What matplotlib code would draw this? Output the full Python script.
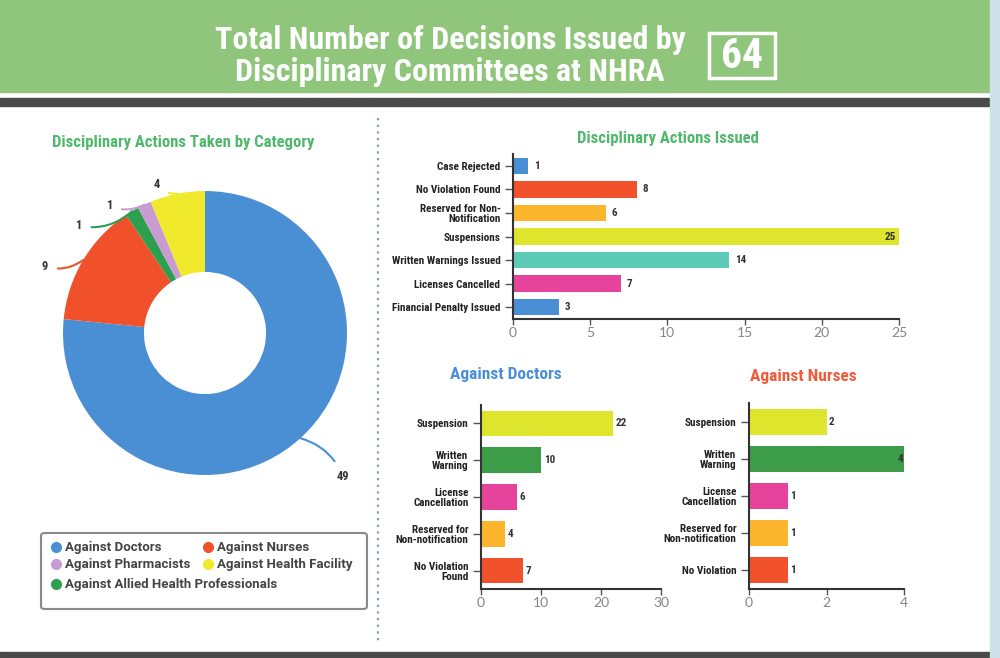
import numpy as np
import matplotlib.pyplot as plt
from matplotlib import font_manager
from matplotlib.patches import Rectangle, FancyBboxPatch
from matplotlib.lines import Line2D

# ---- data ----
pie_labels = ['Against Doctors', 'Against Nurses', 'Against Allied Health Professionals',
              'Against Pharmacists', 'Against Health Facility']
pie_values = [49, 9, 1, 1, 4]
pie_colors = ['#4a8fd4', '#f0512b', '#2e9f4f', '#c99bd3', '#f1ea2c']

issued_cats = ['Case Rejected', 'No Violation Found', 'Reserved for Non-\nNotification',
               'Suspensions', 'Written Warnings Issued', 'Licenses Cancelled',
               'Financial Penalty Issued']
issued_vals = [1, 8, 6, 25, 14, 7, 3]
issued_cols = ['#4a8fd6', '#f2522b', '#fbb62e', '#dde52d', '#5ecbb6', '#e6449c', '#4a8fd6']

doc_cats = ['Suspension', 'Written\nWarning', 'License\nCancellation',
            'Reserved for\nNon-notification', 'No Violation\nFound']
doc_vals = [22, 10, 6, 4, 7]
nurse_cats = ['Suspension', 'Written\nWarning', 'License\nCancellation',
              'Reserved for\nNon-notification', 'No Violation']
nurse_vals = [2, 4, 1, 1, 1]
sub_cols = ['#dde52d', '#3d9c48', '#e6449c', '#fbb62e', '#f2522b']

total = 64

# fonts
names = {f.name for f in font_manager.fontManager.ttflist}
narrow = 'DejaVu Sans'
for n in ['Roboto Condensed', 'Liberation Sans Narrow', 'Roboto']:
    if n in names:
        narrow = n
        break
light = 'Lato' if 'Lato' in names else 'DejaVu Sans'
leg_font = 'Roboto' if 'Roboto' in names else 'DejaVu Sans'

W, H = 1000, 658
fig = plt.figure(figsize=(10, 6.58), dpi=100)
fig.patch.set_facecolor('white')


def box(x0, y0, x1, y1):
    # pixel box (top-left origin) -> figure fraction rect
    return [x0 / W, 1 - y1 / H, (x1 - x0) / W, (y1 - y0) / H]


# ---- header / frame ----
fig.patches.append(Rectangle((0, 1 - 92 / H), 1, 92 / H, transform=fig.transFigure,
                             color='#8fc67c', zorder=0))
fig.patches.append(Rectangle((0, 1 - 106 / H), 990 / W, 8 / H, transform=fig.transFigure,
                             color='#4a4a4a', zorder=0))
fig.patches.append(Rectangle((0, 0), 990 / W, 6 / H, transform=fig.transFigure,
                             color='#4a4a4a', zorder=0))
fig.patches.append(Rectangle((990 / W, 0), 10 / W, 1, transform=fig.transFigure,
                             color='#cfe0e8', zorder=0))

fig.text(450 / W, 1 - 56 / H, 'Total Number of Decisions Issued by\nDisciplinary Committees at NHRA',
         ha='center', va='center', color='white', fontsize=23, fontweight='bold',
         family=narrow, linespacing=1.05)
fig.patches.append(Rectangle((709 / W, 1 - 78 / H), 66 / W, 45 / H, transform=fig.transFigure,
                             fill=False, edgecolor='white', lw=2.5, zorder=2))
fig.text(742 / W, 1 - 56 / H, str(total), ha='center', va='center', color='white',
         fontsize=30, fontweight='bold', family=narrow)

# dotted separator
fig.lines.append(Line2D([378 / W, 378 / W], [1 - 118 / H, 1 - 642 / H], transform=fig.transFigure,
                        color='#7d9cc0', lw=1.6, ls=(0, (1, 2))))

# ---- donut ----
R = 142.0
ax = fig.add_axes(box(20, 160, 390, 506))
wedges, _ = ax.pie(pie_values, colors=pie_colors, startangle=90, counterclock=False,
                   radius=1, wedgeprops=dict(width=0.57, edgecolor='none'))
ax.set_xlim(-185 / R, 185 / R)
ax.set_ylim(-173 / R, 173 / R)
ax.set_aspect('auto')

lab_ang = [-47.5, 157, 139, 126, 107]
lab_rad = [1.37, 1.2, 1.15, 1.11, 1.09]
for w, v, c, a, r in zip(wedges, pie_values, pie_colors, lab_ang, lab_rad):
    mid = np.deg2rad((w.theta1 + w.theta2) / 2)
    tx, ty = r * np.cos(np.deg2rad(a)), r * np.sin(np.deg2rad(a))
    ha = 'left' if tx > 0 else 'right'
    ax.annotate(str(v), xy=(np.cos(mid), np.sin(mid)), xytext=(tx, ty), ha=ha, va='center',
                fontsize=9, fontweight='bold', color='#333333', family=narrow,
                arrowprops=dict(arrowstyle='-', color=c, lw=1.5, shrinkA=5, shrinkB=0,
                                connectionstyle='arc3,rad=0.25'))

fig.text(183 / W, 1 - 143 / H, 'Disciplinary Actions Taken by Category', ha='center', va='center',
         color='#4fb86a', fontsize=12, fontweight='bold', family=narrow)

# legend
fig.patches.append(FancyBboxPatch((41 / W, 1 - 609 / H), 326 / W, 76 / H, transform=fig.transFigure,
                                  boxstyle='round,pad=0,rounding_size=0.004', fill=False,
                                  edgecolor='#8a8a8a', lw=1.5))


def handle(c):
    return Line2D([], [], marker='o', ls='', markersize=7, markerfacecolor=c, markeredgecolor=c)


order = [0, 3, 1, 4]
leg1 = fig.legend([handle(pie_colors[i]) for i in order], [pie_labels[i] for i in order],
                  ncol=2, loc='upper left', bbox_to_anchor=(40 / W, 1 - 532 / H), frameon=False,
                  prop=dict(family=leg_font, size=9.5, weight='bold'), handletextpad=0.2,
                  columnspacing=0.8, labelspacing=0.3, borderpad=0.2, handlelength=1.0)
leg2 = fig.legend([handle(pie_colors[2])], [pie_labels[2]], loc='upper left',
                  bbox_to_anchor=(40 / W, 1 - 569 / H), frameon=False,
                  prop=dict(family=leg_font, size=9.5, weight='bold'), handletextpad=0.2,
                  borderpad=0.2, handlelength=1.0)
for lg in (leg1, leg2):
    for t in lg.get_texts():
        t.set_color('#444444')


# ---- bar charts ----
def hbar(ax, cats, vals, cols, xmax, step, fs):
    y = np.arange(len(cats))
    ax.barh(y, vals, height=0.7, color=cols)
    ax.set_ylim(len(cats) - 0.5, -0.5)
    ax.set_xlim(0, xmax)
    ax.set_xticks(np.arange(0, xmax + 1, step))
    ax.set_yticks(y)
    ax.set_yticklabels(cats, fontsize=fs, fontweight='bold', family=narrow, color='#222222',
                       linespacing=1.0)
    for s in ['top', 'right']:
        ax.spines[s].set_visible(False)
    for s in ['left', 'bottom']:
        ax.spines[s].set_color('#333333')
        ax.spines[s].set_linewidth(1.5)
    ax.tick_params(axis='y', length=6, width=1, color='#555555', pad=3)
    ax.tick_params(axis='x', length=4, width=1, color='#555555', labelcolor='#858585',
                   labelsize=10, pad=2)
    for t in ax.get_xticklabels():
        t.set_family(light)
        t.set_fontweight('normal')
    for yi, v in zip(y, vals):
        if v >= xmax:
            ax.text(v - xmax * 0.008, yi, str(v), ha='right', va='center', fontsize=8,
                    fontweight='bold', color='#333333', family=narrow)
        else:
            ax.text(v + xmax * 0.015, yi, str(v), ha='left', va='center', fontsize=8,
                    fontweight='bold', color='#333333', family=narrow)


ax1 = fig.add_axes(box(513, 154, 899, 319))
hbar(ax1, issued_cats, issued_vals, issued_cols, 25, 5, 8)
fig.text(668 / W, 1 - 139 / H, 'Disciplinary Actions Issued', ha='center', va='center',
         color='#4fb86a', fontsize=12, fontweight='bold', family=narrow)

ax2 = fig.add_axes(box(481, 405, 661, 589))
hbar(ax2, doc_cats, doc_vals, sub_cols, 30, 10, 8)
fig.text(506 / W, 1 - 374 / H, 'Against Doctors', ha='center', va='center',
         color='#4a90d9', fontsize=12.5, fontweight='bold', family=narrow)

ax3 = fig.add_axes(box(749, 403, 904, 589))
hbar(ax3, nurse_cats, nurse_vals, sub_cols, 4, 2, 8)
fig.text(803 / W, 1 - 376 / H, 'Against Nurses', ha='center', va='center',
         color='#f25a3a', fontsize=12.5, fontweight='bold', family=narrow)

fig.savefig('out.png', dpi=100)
